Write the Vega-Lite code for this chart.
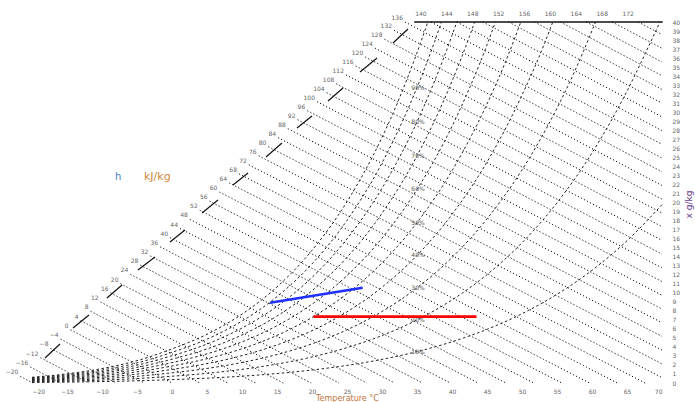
{
"$schema": "https://vega.github.io/schema/vega-lite/v6.json",
"width": 630, "height": 361,
"autosize": {"type": "none"},
"padding": {"left": 32, "top": 22, "right": 33, "bottom": 19},
"background": "white",
"config": {"view": {"stroke": null}, "font": "DejaVu Sans"},
"datasets": {
"hlines": [
{"h":-20,"o":0,"t":-21.67,"x":0.735},{"h":-20,"o":1,"t":-19.88,"x":0},
{"h":-16,"o":0,"t":-20.23,"x":1.769},{"h":-16,"o":1,"t":-15.90,"x":0},
{"h":-12,"o":0,"t":-18.79,"x":2.802},{"h":-12,"o":1,"t":-11.93,"x":0},
{"h":-8,"o":0,"t":-17.36,"x":3.833},{"h":-8,"o":1,"t":-7.95,"x":0},
{"h":-4,"o":0,"t":-15.92,"x":4.863},{"h":-4,"o":1,"t":-3.98,"x":0},
{"h":0,"o":0,"t":-14.49,"x":5.892},{"h":0,"o":1,"t":0,"x":0},
{"h":4,"o":0,"t":-13.06,"x":6.920},{"h":4,"o":1,"t":3.98,"x":0},
{"h":8,"o":0,"t":-11.63,"x":7.946},{"h":8,"o":1,"t":7.95,"x":0},
{"h":12,"o":0,"t":-10.21,"x":8.970},{"h":12,"o":1,"t":11.93,"x":0},
{"h":16,"o":0,"t":-8.78,"x":9.993},{"h":16,"o":1,"t":15.90,"x":0},
{"h":20,"o":0,"t":-7.36,"x":11.015},{"h":20,"o":1,"t":19.88,"x":0},
{"h":24,"o":0,"t":-5.94,"x":12.036},{"h":24,"o":1,"t":23.86,"x":0},
{"h":28,"o":0,"t":-4.52,"x":13.055},{"h":28,"o":1,"t":27.83,"x":0},
{"h":32,"o":0,"t":-3.10,"x":14.073},{"h":32,"o":1,"t":31.81,"x":0},
{"h":36,"o":0,"t":-1.69,"x":15.090},{"h":36,"o":1,"t":35.79,"x":0},
{"h":40,"o":0,"t":-0.27,"x":16.105},{"h":40,"o":1,"t":39.76,"x":0},
{"h":44,"o":0,"t":1.14,"x":17.119},{"h":44,"o":1,"t":43.74,"x":0},
{"h":48,"o":0,"t":2.55,"x":18.131},{"h":48,"o":1,"t":47.71,"x":0},
{"h":52,"o":0,"t":3.96,"x":19.142},{"h":52,"o":1,"t":51.69,"x":0},
{"h":56,"o":0,"t":5.36,"x":20.152},{"h":56,"o":1,"t":55.67,"x":0},
{"h":60,"o":0,"t":6.77,"x":21.160},{"h":60,"o":1,"t":59.64,"x":0},
{"h":64,"o":0,"t":8.17,"x":22.168},{"h":64,"o":1,"t":63.62,"x":0},
{"h":68,"o":0,"t":9.57,"x":23.173},{"h":68,"o":1,"t":67.59,"x":0},
{"h":72,"o":0,"t":10.97,"x":24.177},{"h":72,"o":1,"t":70,"x":0.600},
{"h":76,"o":0,"t":12.37,"x":25.180},{"h":76,"o":1,"t":70,"x":2.121},
{"h":80,"o":0,"t":13.76,"x":26.182},{"h":80,"o":1,"t":70,"x":3.641},
{"h":84,"o":0,"t":15.15,"x":27.182},{"h":84,"o":1,"t":70,"x":5.161},
{"h":88,"o":0,"t":16.54,"x":28.181},{"h":88,"o":1,"t":70,"x":6.682},
{"h":92,"o":0,"t":17.93,"x":29.179},{"h":92,"o":1,"t":70,"x":8.202},
{"h":96,"o":0,"t":19.32,"x":30.176},{"h":96,"o":1,"t":70,"x":9.722},
{"h":100,"o":0,"t":20.71,"x":31.170},{"h":100,"o":1,"t":70,"x":11.242},
{"h":104,"o":0,"t":22.09,"x":32.164},{"h":104,"o":1,"t":70,"x":12.762},
{"h":108,"o":0,"t":23.47,"x":33.156},{"h":108,"o":1,"t":70,"x":14.283},
{"h":112,"o":0,"t":24.85,"x":34.147},{"h":112,"o":1,"t":70,"x":15.803},
{"h":116,"o":0,"t":26.23,"x":35.136},{"h":116,"o":1,"t":70,"x":17.323},
{"h":120,"o":0,"t":27.60,"x":36.125},{"h":120,"o":1,"t":70,"x":18.843},
{"h":124,"o":0,"t":28.98,"x":37.111},{"h":124,"o":1,"t":70,"x":20.364},
{"h":128,"o":0,"t":30.35,"x":38.097},{"h":128,"o":1,"t":70,"x":21.884},
{"h":132,"o":0,"t":31.72,"x":39.081},{"h":132,"o":1,"t":70,"x":23.404},
{"h":136,"o":0,"t":33.28,"x":40},{"h":136,"o":1,"t":70,"x":24.925},
{"h":140,"o":0,"t":36.99,"x":40},{"h":140,"o":1,"t":70,"x":26.445},
{"h":144,"o":0,"t":40.69,"x":40},{"h":144,"o":1,"t":70,"x":27.965},
{"h":148,"o":0,"t":44.39,"x":40},{"h":148,"o":1,"t":70,"x":29.485},
{"h":152,"o":0,"t":48.09,"x":40},{"h":152,"o":1,"t":70,"x":31.006},
{"h":156,"o":0,"t":51.79,"x":40},{"h":156,"o":1,"t":70,"x":32.526},
{"h":160,"o":0,"t":55.49,"x":40},{"h":160,"o":1,"t":70,"x":34.046},
{"h":164,"o":0,"t":59.19,"x":40},{"h":164,"o":1,"t":70,"x":35.566},
{"h":168,"o":0,"t":62.89,"x":40},{"h":168,"o":1,"t":70,"x":37.087},
{"h":172,"o":0,"t":66.60,"x":40},{"h":172,"o":1,"t":70,"x":38.607}
],
"rh": [
{"phi":100,"t":-20,"x":0.634},{"phi":100,"t":-15,"x":1.016},{"phi":100,"t":-10,"x":1.599},{"phi":100,"t":-5,"x":2.476},{"phi":100,"t":0,"x":3.775},{"phi":100,"t":5,"x":5.403},{"phi":100,"t":10,"x":7.632},{"phi":100,"t":15,"x":10.65},{"phi":100,"t":20,"x":14.70},{"phi":100,"t":25,"x":20.09},{"phi":100,"t":30,"x":27.21},{"phi":100,"t":32.5,"x":31.59},{"phi":100,"t":35,"x":36.59},{"phi":100,"t":36.55,"x":40},
{"phi":90,"t":-20,"x":0.571},{"phi":90,"t":-15,"x":0.914},{"phi":90,"t":-10,"x":1.439},{"phi":90,"t":-5,"x":2.227},{"phi":90,"t":0,"x":3.395},{"phi":90,"t":5,"x":4.859},{"phi":90,"t":10,"x":6.861},{"phi":90,"t":15,"x":9.569},{"phi":90,"t":20,"x":13.199},{"phi":90,"t":25,"x":18.02},{"phi":90,"t":30,"x":24.38},{"phi":90,"t":35,"x":32.74},{"phi":90,"t":37.5,"x":37.79},{"phi":90,"t":38.49,"x":40},
{"phi":80,"t":-20,"x":0.507},{"phi":80,"t":-15,"x":0.812},{"phi":80,"t":-10,"x":1.278},{"phi":80,"t":-5,"x":1.979},{"phi":80,"t":0,"x":3.016},{"phi":80,"t":5,"x":4.315},{"phi":80,"t":10,"x":6.091},{"phi":80,"t":15,"x":8.491},{"phi":80,"t":20,"x":11.70},{"phi":80,"t":25,"x":15.97},{"phi":80,"t":30,"x":21.58},{"phi":80,"t":35,"x":28.93},{"phi":80,"t":40,"x":38.51},{"phi":80,"t":40.68,"x":40},
{"phi":70,"t":-20,"x":0.444},{"phi":70,"t":-15,"x":0.710},{"phi":70,"t":-10,"x":1.118},{"phi":70,"t":-5,"x":1.731},{"phi":70,"t":0,"x":2.637},{"phi":70,"t":5,"x":3.772},{"phi":70,"t":10,"x":5.322},{"phi":70,"t":15,"x":7.417},{"phi":70,"t":20,"x":10.217},{"phi":70,"t":25,"x":13.926},{"phi":70,"t":30,"x":18.80},{"phi":70,"t":35,"x":25.17},{"phi":70,"t":40,"x":33.44},{"phi":70,"t":42.5,"x":38.41},{"phi":70,"t":43.23,"x":40},
{"phi":60,"t":-20,"x":0.380},{"phi":60,"t":-15,"x":0.609},{"phi":60,"t":-10,"x":0.958},{"phi":60,"t":-5,"x":1.483},{"phi":60,"t":0,"x":2.259},{"phi":60,"t":5,"x":3.231},{"phi":60,"t":10,"x":4.557},{"phi":60,"t":15,"x":6.347},{"phi":60,"t":20,"x":8.737},{"phi":60,"t":25,"x":11.90},{"phi":60,"t":30,"x":16.05},{"phi":60,"t":35,"x":21.45},{"phi":60,"t":40,"x":28.44},{"phi":60,"t":45,"x":37.47},{"phi":60,"t":46.2,"x":40},
{"phi":50,"t":-20,"x":0.317},{"phi":50,"t":-15,"x":0.507},{"phi":50,"t":-10,"x":0.798},{"phi":50,"t":-5,"x":1.235},{"phi":50,"t":0,"x":1.882},{"phi":50,"t":5,"x":2.690},{"phi":50,"t":10,"x":3.793},{"phi":50,"t":15,"x":5.280},{"phi":50,"t":20,"x":7.264},{"phi":50,"t":25,"x":9.885},{"phi":50,"t":30,"x":13.31},{"phi":50,"t":35,"x":17.77},{"phi":50,"t":40,"x":23.52},{"phi":50,"t":45,"x":30.91},{"phi":50,"t":47.5,"x":35.31},{"phi":50,"t":49.83,"x":40},
{"phi":40,"t":-20,"x":0.254},{"phi":40,"t":-15,"x":0.406},{"phi":40,"t":-10,"x":0.639},{"phi":40,"t":-5,"x":0.988},{"phi":40,"t":0,"x":1.505},{"phi":40,"t":5,"x":2.150},{"phi":40,"t":10,"x":3.031},{"phi":40,"t":15,"x":4.217},{"phi":40,"t":20,"x":5.798},{"phi":40,"t":25,"x":7.882},{"phi":40,"t":30,"x":10.61},{"phi":40,"t":35,"x":14.14},{"phi":40,"t":40,"x":18.68},{"phi":40,"t":45,"x":24.49},{"phi":40,"t":50,"x":31.89},{"phi":40,"t":52.5,"x":36.26},{"phi":40,"t":54.4,"x":40},
{"phi":30,"t":-20,"x":0.190},{"phi":30,"t":-15,"x":0.304},{"phi":30,"t":-10,"x":0.479},{"phi":30,"t":-5,"x":0.741},{"phi":30,"t":0,"x":1.128},{"phi":30,"t":5,"x":1.611},{"phi":30,"t":10,"x":2.270},{"phi":30,"t":15,"x":3.157},{"phi":30,"t":20,"x":4.338},{"phi":30,"t":25,"x":5.893},{"phi":30,"t":30,"x":7.921},{"phi":30,"t":35,"x":10.54},{"phi":30,"t":40,"x":13.90},{"phi":30,"t":45,"x":18.19},{"phi":30,"t":50,"x":23.61},{"phi":30,"t":55,"x":30.45},{"phi":30,"t":57.5,"x":34.48},{"phi":30,"t":60,"x":39.04},{"phi":30,"t":60.5,"x":40},
{"phi":20,"t":-20,"x":0.127},{"phi":20,"t":-15,"x":0.203},{"phi":20,"t":-10,"x":0.319},{"phi":20,"t":-5,"x":0.494},{"phi":20,"t":0,"x":0.751},{"phi":20,"t":5,"x":1.073},{"phi":20,"t":10,"x":1.511},{"phi":20,"t":15,"x":2.101},{"phi":20,"t":20,"x":2.885},{"phi":20,"t":25,"x":3.916},{"phi":20,"t":30,"x":5.258},{"phi":20,"t":35,"x":6.988},{"phi":20,"t":40,"x":9.201},{"phi":20,"t":45,"x":12.01},{"phi":20,"t":50,"x":15.54},{"phi":20,"t":55,"x":19.97},{"phi":20,"t":60,"x":25.49},{"phi":20,"t":65,"x":32.34},{"phi":20,"t":67.5,"x":36.33},{"phi":20,"t":69.7,"x":40},
{"phi":10,"t":-20,"x":0.063},{"phi":10,"t":-15,"x":0.101},{"phi":10,"t":-10,"x":0.160},{"phi":10,"t":-5,"x":0.247},{"phi":10,"t":0,"x":0.375},{"phi":10,"t":5,"x":0.536},{"phi":10,"t":10,"x":0.755},{"phi":10,"t":15,"x":1.049},{"phi":10,"t":20,"x":1.439},{"phi":10,"t":25,"x":1.952},{"phi":10,"t":30,"x":2.618},{"phi":10,"t":35,"x":3.475},{"phi":10,"t":40,"x":4.566},{"phi":10,"t":45,"x":5.946},{"phi":10,"t":50,"x":7.676},{"phi":10,"t":55,"x":9.829},{"phi":10,"t":60,"x":12.49},{"phi":10,"t":65,"x":15.76},{"phi":10,"t":70,"x":19.76}
],
"rhlab": [
{"label":"10%","t":35.14,"x":3.475},{"label":"20%","t":35.14,"x":6.988},{"label":"30%","t":35.14,"x":10.54},{"label":"40%","t":35.14,"x":14.14},{"label":"50%","t":35.14,"x":17.77},{"label":"60%","t":35.14,"x":21.45},{"label":"70%","t":35.14,"x":25.17},{"label":"80%","t":35.14,"x":28.93},{"label":"90%","t":35.14,"x":32.74}
],
"seg": [
{"t":-18.14,"x":2.77,"t2":-16.0,"x2":4.32},
{"t":-14.14,"x":6.09,"t2":-11.86,"x2":7.53},
{"t":-9.29,"x":9.42,"t2":-7.14,"x2":10.86},
{"t":-4.86,"x":12.52,"t2":-2.43,"x2":13.96},
{"t":-0.29,"x":15.62,"t2":1.86,"x2":16.95},
{"t":4.29,"x":18.84,"t2":6.57,"x2":20.28},
{"t":8.71,"x":21.94,"t2":10.86,"x2":23.27},
{"t":13.43,"x":25.04,"t2":15.71,"x2":26.59},
{"t":17.86,"x":28.25,"t2":20.0,"x2":29.58},
{"t":22.29,"x":31.25,"t2":24.43,"x2":32.69},
{"t":26.86,"x":34.46,"t2":29.29,"x2":36.01},
{"t":31.57,"x":37.67,"t2":33.71,"x2":39.22}
],
"topline": [{"t":34.6,"t2":70.1,"x":40}],
"proc": [
{"name":"A","o":0,"t":14.0,"x":8.90},{"name":"A","o":1,"t":27.24,"x":10.56},
{"name":"B","o":0,"t":20.2,"x":7.35},{"name":"B","o":1,"t":43.5,"x":7.35}
],
"htitle": [{"part":"h","t":-7.7,"x":22.8,"label":"h"},{"part":"u","t":-2.1,"x":22.8,"label":"kJ/kg"}]
},
"encoding": {
"x": {"field":"t","type":"quantitative","scale":{"domain":[-20,70],"nice":false,"zero":false},
 "axis":{"title":"Temperature °C","values":[-20,-15,-10,-5,0,5,10,15,20,25,30,35,40,45,50,55,60,65,70],"domain":false,"ticks":false,"grid":false,"labelFontSize":6,"labelColor":"#666","labelPadding":5,"titleFontSize":8,"titleFontWeight":"normal","titleColor":"#c0743a","titleY":15,"titleBaseline":"middle"}},
"y": {"field":"x","type":"quantitative","scale":{"domain":[0,40],"nice":false,"zero":false},
 "axis":{"title":"x g/kg","orient":"right","values":[0,1,2,3,4,5,6,7,8,9,10,11,12,13,14,15,16,17,18,19,20,21,22,23,24,25,26,27,28,29,30,31,32,33,34,35,36,37,38,39,40],"domain":false,"ticks":false,"grid":false,"labelFontSize":6,"labelColor":"#666","labelPadding":10,"titleFontSize":9,"titleFontWeight":"normal","titleColor":"#6a3a8a","titleAngle":270,"titleX":26,"titleY":182,"titleAlign":"center","titleBaseline":"middle"}}
},
"layer": [
{"data":{"name":"hlines"},"mark":{"type":"line","color":"#111","strokeWidth":1,"strokeDash":[1.2,2.2]},
 "encoding":{"detail":{"field":"h","type":"nominal"},"order":{"field":"o","type":"quantitative"}}},
{"data":{"name":"rh"},"mark":{"type":"line","color":"#222","strokeWidth":1,"strokeDash":[2.5,2.5],"interpolate":"monotone"},
 "encoding":{"detail":{"field":"phi","type":"nominal"},"order":{"field":"t","type":"quantitative"}}},
{"data":{"name":"seg"},"mark":{"type":"rule","color":"#111","strokeWidth":1.2},
 "encoding":{"x2":{"field":"t2"},"y2":{"field":"x2"}}},
{"data":{"name":"topline"},"mark":{"type":"rule","color":"#111","strokeWidth":1.5},
 "encoding":{"x2":{"field":"t2"}}},
{"data":{"name":"hlines"},"transform":[{"filter":"datum.o == 0 && datum.h <= 136"}],
 "mark":{"type":"text","fontSize":6,"color":"#666","align":"right","dx":-2,"dy":-4},
 "encoding":{"text":{"field":"h","type":"quantitative","format":"d"}}},
{"data":{"name":"hlines"},"transform":[{"filter":"datum.o == 0 && datum.h >= 140"}],
 "mark":{"type":"text","fontSize":6,"color":"#666","align":"center","dx":-10,"dy":-8},
 "encoding":{"text":{"field":"h","type":"quantitative","format":"d"}}},
{"data":{"name":"rhlab"},"mark":{"type":"text","fontSize":6,"color":"#555","align":"center"},
 "encoding":{"text":{"field":"label","type":"nominal"}}},
{"data":{"name":"proc"},"transform":[{"filter":"datum.name == 'A'"}],"mark":{"type":"line","strokeWidth":2.6,"color":"#1f2fff"},
 "encoding":{"order":{"field":"o","type":"quantitative"}}},
{"data":{"name":"proc"},"transform":[{"filter":"datum.name == 'B'"}],"mark":{"type":"line","strokeWidth":2.6,"color":"#ff0000"},
 "encoding":{"order":{"field":"o","type":"quantitative"}}},
{"data":{"name":"htitle"},"transform":[{"filter":"datum.part == 'h'"}],"mark":{"type":"text","fontSize":10,"color":"#4a80c8"},
 "encoding":{"text":{"field":"label","type":"nominal"}}},
{"data":{"name":"htitle"},"transform":[{"filter":"datum.part == 'u'"}],"mark":{"type":"text","fontSize":11,"color":"#d08a40"},
 "encoding":{"text":{"field":"label","type":"nominal"}}}
]
}
